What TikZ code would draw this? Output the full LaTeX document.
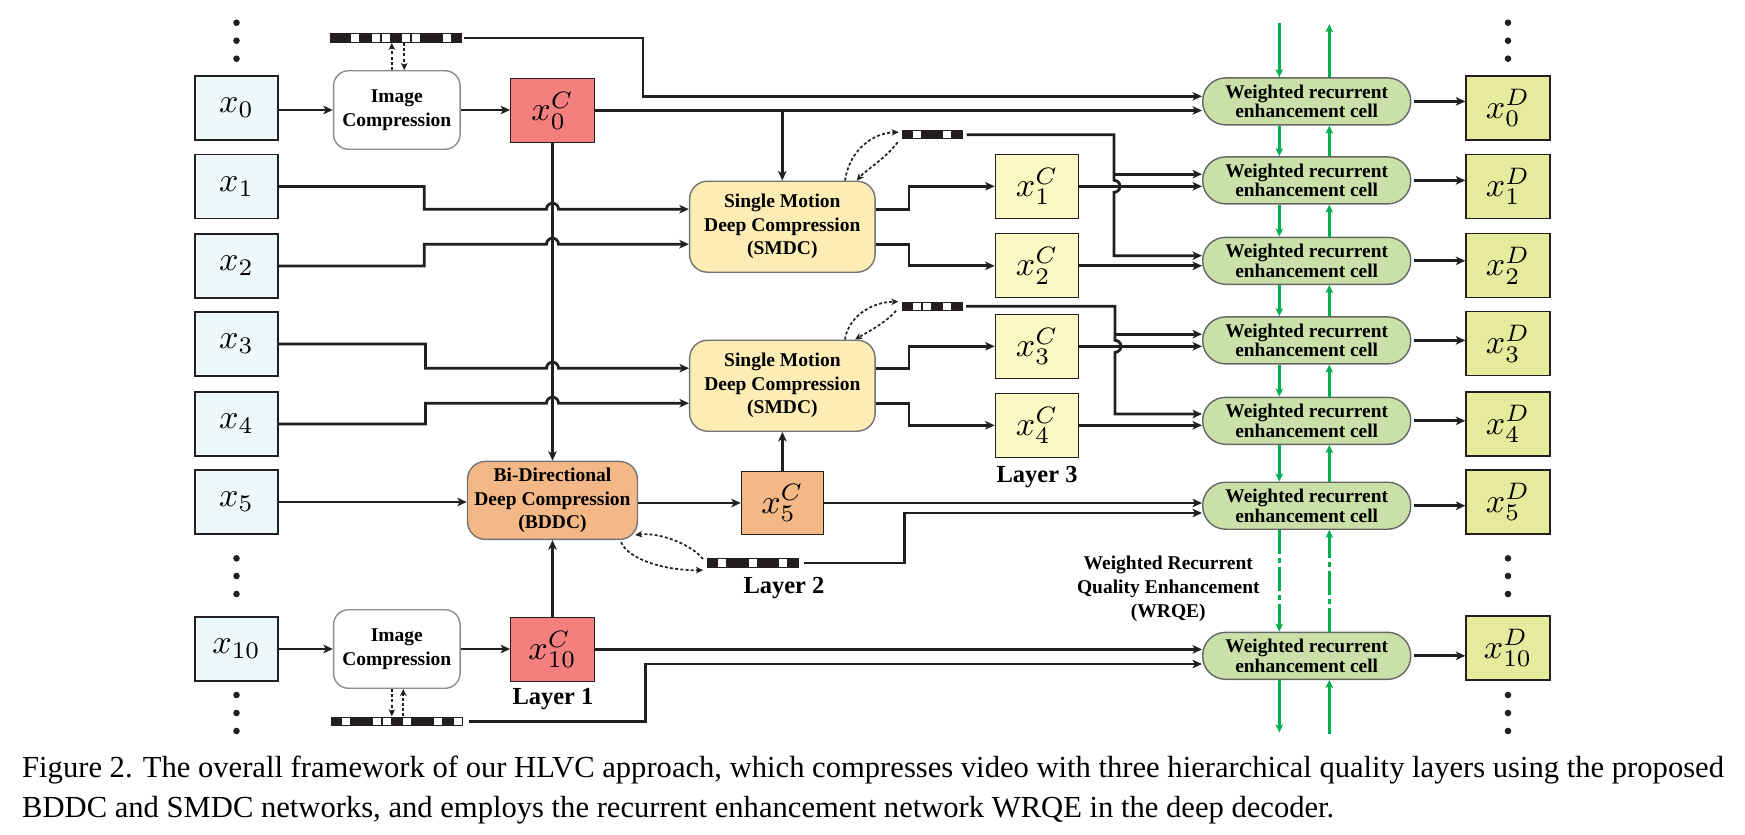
\documentclass[tikz,border=0pt]{standalone}
\usepackage{graphicx}
\usepackage[no-math]{fontspec}
\setmainfont{Liberation Serif}
\usetikzlibrary{arrows.meta,calc}

\definecolor{lin}{RGB}{35,31,32}
\definecolor{incol}{RGB}{237,248,250}
\definecolor{redcol}{RGB}{244,127,127}
\definecolor{smdccol}{RGB}{253,236,180}
\definecolor{ycol}{RGB}{252,248,196}
\definecolor{ocol}{RGB}{244,184,135}
\definecolor{wcol}{RGB}{201,225,168}
\definecolor{dcol}{RGB}{230,234,156}
\definecolor{gcol}{RGB}{0,176,80}

\newcommand{\mx}[1]{\scalebox{3.4}{$#1$}}

\tikzset{
  box/.style={draw=lin, line width=1.3pt, minimum width=83pt, minimum height=64pt, inner sep=0pt},
  inbox/.style={box, fill=incol},
  redbox/.style={box, fill=redcol, minimum width=83.5pt, minimum height=64.4pt},
  ybox/.style={box, fill=ycol, minimum width=83.4pt},
  obox/.style={box, fill=ocol, minimum width=82pt, minimum height=62.6pt},
  dbox/.style={box, fill=dcol, minimum width=84pt},
  proc/.style={align=center, inner sep=0pt, line width=1.4pt, font=\fontsize{19.5}{23.5}\selectfont\bfseries},
  icbox/.style={proc, draw=black!45, fill=white, rounded corners=15pt, minimum width=126.5pt, minimum height=78.5pt},
  smdc/.style={proc, draw=black!55, fill=smdccol, rounded corners=18pt, minimum width=185.5pt, minimum height=91pt},
  bddc/.style={proc, draw=black!55, fill=ocol, rounded corners=18pt, minimum width=170pt, minimum height=78pt},
  wrec/.style={proc, draw=black!60, fill=wcol, rounded corners=23pt, minimum width=208pt, minimum height=47pt, font=\fontsize{19.4}{19.5}\selectfont\bfseries},
  lab/.style={inner sep=0pt, font=\fontsize{24.5}{28}\selectfont\bfseries},
  arr/.style={draw=lin, line width=2.8pt, -{Stealth[length=9.5pt,width=8.5pt,inset=2.5pt]}},
  garr/.style={draw=gcol, line width=2.7pt, -{Stealth[length=8pt,width=7.5pt,inset=2pt]}},
  darr/.style={draw=lin, line width=1.7pt, dash pattern=on 3pt off 2.2pt, -{Stealth[length=7pt,width=6.5pt,inset=2pt]}},
  gdash/.style={dash pattern=on 24pt off 4pt on 5pt off 4pt},
}

\newcommand{\bitbar}[5]{%
  \node[fill=lin, inner sep=0pt, minimum width=#4*10.15pt, minimum height=9.4pt, anchor=west] (#1) at (#2,#3) {};
  \foreach \c in {#5}{\fill[white] (#2+\c*10.15+1.1, #3-3.6) rectangle (#2+\c*10.15+9.05, #3+3.6);}
}

\begin{document}
\begin{tikzpicture}[x=1pt,y=-1pt]
\useasboundingbox (0,0) rectangle (1745,835);

% ---------- input frames
\node[inbox] (x0)  at (236.5,108)   {\mx{x_0}};
\node[inbox] (x1)  at (236.5,186.5) {\mx{x_1}};
\node[inbox] (x2)  at (236.5,266)   {\mx{x_2}};
\node[inbox] (x3)  at (236.5,344)   {\mx{x_3}};
\node[inbox] (x4)  at (236.5,424)   {\mx{x_4}};
\node[inbox] (x5)  at (236.5,502)   {\mx{x_5}};
\node[inbox] (x10) at (236.5,649)   {\mx{x_{10}}};

% ---------- layer 1
\node[icbox] (IC1) at (396.8,110) {Image\\Compression};
\node[icbox] (IC2) at (396.8,649) {Image\\Compression};
\node[redbox] (x0C)  at (552.5,110.5) {\mx{x_0^C}};
\node[redbox] (x10C) at (552.5,649.4) {\mx{x_{10}^C}};

% ---------- layer 2
\node[bddc] (B) at (552.5,500.4) {Bi-Directional\\Deep Compression\\(BDDC)};
\node[obox] (x5C) at (782.4,503) {\mx{x_5^C}};

% ---------- layer 3
\node[smdc] (S1) at (782.3,226.7) {Single Motion\\Deep Compression\\(SMDC)};
\node[smdc] (S2) at (782.4,385.7) {Single Motion\\Deep Compression\\(SMDC)};
\node[ybox] (x1C) at (1037,186.3) {\mx{x_1^C}};
\node[ybox] (x2C) at (1037,265.8) {\mx{x_2^C}};
\node[ybox] (x3C) at (1037,346.3) {\mx{x_3^C}};
\node[ybox] (x4C) at (1037,425.3) {\mx{x_4^C}};

% ---------- WRQE
\node[wrec] (W0)  at (1306.7,101.4) {Weighted recurrent\\enhancement cell};
\node[wrec] (W1)  at (1306.7,180.4) {Weighted recurrent\\enhancement cell};
\node[wrec] (W2)  at (1306.7,260.8) {Weighted recurrent\\enhancement cell};
\node[wrec] (W3)  at (1306.7,340.4) {Weighted recurrent\\enhancement cell};
\node[wrec] (W4)  at (1306.7,420.8) {Weighted recurrent\\enhancement cell};
\node[wrec] (W5)  at (1306.7,505.7) {Weighted recurrent\\enhancement cell};
\node[wrec] (W10) at (1306.7,655.8) {Weighted recurrent\\enhancement cell};

% ---------- decoded frames
\node[dbox] (D0)  at (1508,108)   {\mx{x_0^D}};
\node[dbox] (D1)  at (1508,186.3) {\mx{x_1^D}};
\node[dbox] (D2)  at (1508,265.5) {\mx{x_2^D}};
\node[dbox] (D3)  at (1508,343.6) {\mx{x_3^D}};
\node[dbox] (D4)  at (1508,424)   {\mx{x_4^D}};
\node[dbox] (D5)  at (1508,502)   {\mx{x_5^D}};
\node[dbox] (D10) at (1508,648)   {\mx{x_{10}^D}};

% ---------- bitstreams
\bitbar{b0}{330}{38}{13}{2,4,5,7,8,11}
\bitbar{b1}{901.7}{134.7}{6}{1,4}
\bitbar{b2}{901.7}{306.2}{6}{1,2,4}
\bitbar{b3}{707}{563}{9}{1,4,7}
\bitbar{b4}{331.2}{721.3}{13}{1,4,5,7,10,12}

% ---------- labels
\node[lab] (L1) at (553,699) {Layer 1};
\node[lab] (L2) at (784,588) {Layer 2};
\node[lab] (L3) at (1037,476.7) {Layer 3};
\node[align=center, inner sep=0pt, font=\fontsize{19.5}{24}\selectfont\bfseries] (wrqe) at (1168.3,589) {Weighted Recurrent\\Quality Enhancement\\(WRQE)};

% ---------- dots
\foreach \yy in {22.7,40.7,58.7,558.3,576,594,695,713,731}{
  \fill[lin] (236.5,\yy) circle[radius=3.3];
  \fill[lin] (1508,\yy) circle[radius=3.3];
}

% ---------- top row connectors
\draw[arr] (x0.east |- IC1) -- (IC1.west);
\draw[arr] (IC1.east) -- (x0C.west |- IC1);
\draw[arr] (x0C.east) -- (W0.west |- x0C.east);
\draw[arr] (x0C.east -| S1.north) -- (S1.north);
\coordinate (k0) at (643,96.3);
\draw[arr, shorten <=1.5pt] (b0.east) -| (k0) -- (W0.west |- k0);
\coordinate (d0a) at ($(IC1.north)+(-5,0)$);
\coordinate (d0b) at ($(IC1.north)+(7.5,0)$);
\draw[darr] (d0a) -- (d0a |- b0.south);
\draw[darr] (d0b |- b0.south) -- (d0b);

% ---------- bottom row connectors
\draw[arr] (x10.east |- IC2) -- (IC2.west);
\draw[arr] (IC2.east) -- (x10C.west |- IC2);
\draw[arr] (x10C.east) -- (W10.west |- x10C.east);
\coordinate (k10) at (645.5,664);
\draw[arr, shorten <=5pt] (b4.east) -| (k10) -- (W10.west |- k10);
\coordinate (d4a) at ($(IC2.south)+(-5,0)$);
\coordinate (d4b) at ($(IC2.south)+(6.5,0)$);
\draw[darr] (d4a) -- (d4a |- b4.north);
\draw[darr] (d4b |- b4.north) -- (d4b);

% ---------- layer 2
\draw[arr] (x0C.south) -- (B.north);
\draw[arr] (x10C.north) -- (B.south);
\draw[arr] (x5.east) -- (B.west |- x5.east);
\draw[arr] (B.east |- x5C) -- (x5C.west);
\draw[arr] (x5C.north) -- (S2.south);
\draw[arr] (x5C.east) -- (W5.west |- x5C.east);
\coordinate (k5) at (904.5,513);
\draw[arr, shorten <=5pt] (b3.east) -| (k5) -- (W5.west |- k5);
\draw[darr] ($(B.south east)+(-17,2)$) .. controls (628,560) and (668,571) .. ($(b3.west)+(-4,7)$);
\draw[darr] ($(b3.west)+(-4,-4)$) .. controls (693,546) and (662,532) .. ($(B.east)+(-3,34.6)$);

% ---------- SMDC inputs (with hops over the vertical line)
\draw[arr] (x1.east) -| (424.3,209.2) -- (546.5,209.2) arc[start angle=180,end angle=360,radius=6] -- ($(S1.west)+(0,-17.5)$);
\draw[arr] (x2.east) -| (424.3,244.2) -- (546.5,244.2) arc[start angle=180,end angle=360,radius=6] -- ($(S1.west)+(0,17.5)$);
\draw[arr] (x3.east) -| (425.5,368.2) -- (546.5,368.2) arc[start angle=180,end angle=360,radius=6] -- ($(S2.west)+(0,-17.5)$);
\draw[arr] (x4.east) -| (425.5,403.2) -- (546.5,403.2) arc[start angle=180,end angle=360,radius=6] -- ($(S2.west)+(0,17.5)$);

% ---------- SMDC outputs
\coordinate (cs) at (909,0);
\draw[arr] ($(S1.east)+(0,-17.5)$) -| (cs |- x1C.west) -- (x1C.west);
\draw[arr] ($(S1.east)+(0,17.5)$) -| (cs |- x2C.west) -- (x2C.west);
\draw[arr] ($(S2.east)+(0,-17.5)$) -| (cs |- x3C.west) -- (x3C.west);
\draw[arr] ($(S2.east)+(0,17.5)$) -| (cs |- x4C.west) -- (x4C.west);

% ---------- SMDC bitstream exchange
\draw[darr] ($(S1.north)+(62.7,0)$) .. controls (849,152) and (871,133) .. ($(b1.west)+(-3,-2.5)$);
\draw[darr] ($(b1.west)+(-4,7.5)$) .. controls (886,158) and (866,170) .. ($(S1.north)+(74.4,0)$);
\draw[darr] ($(S2.north)+(62.6,0)$) .. controls (848,318) and (870,302) .. ($(b2.west)+(-3.4,-4.5)$);
\draw[darr] ($(b2.west)+(-5.7,4.5)$) .. controls (887,322) and (866,333) .. ($(S2.north)+(72.6,0)$);

% ---------- layer 3 to WRQE
\draw[arr] (x1C.east) -- (W1.west |- x1C.east);
\draw[arr] (x2C.east) -- (W2.west |- x2C.east);
\draw[arr] (x3C.east) -- (W3.west |- x3C.east);
\draw[arr] (x4C.east) -- (W4.west |- x4C.east);
\coordinate (k1) at (1114,174.2);
\coordinate (k2) at (1114,255.7);
\draw[arr, shorten <=3.5pt] (b1.east) -| ($(x1C.east -| k1)+(0,-6)$) arc[start angle=-90,end angle=90,radius=6] -- (k2) -- (W2.west |- k2);
\draw[arr] (k1) -- (W1.west |- k1);
\coordinate (k3) at (1115,334.2);
\coordinate (k4) at (1115,414);
\draw[arr, shorten <=3pt] (b2.east) -| ($(x3C.east -| k3)+(0,-6)$) arc[start angle=-90,end angle=90,radius=6] -- (k4) -- (W4.west |- k4);
\draw[arr] (k3) -- (W3.west |- k3);

% ---------- WRQE to decoded frames
\foreach \i in {0,1,2,3,4,5,10}{
  \draw[arr, shorten <=3pt] (W\i.east) -- (D\i.west |- W\i.east);
}

% ---------- recurrent (green) connections
\foreach \a/\b in {0/1,1/2,2/3,3/4,4/5}{
  \draw[garr] ($(W\a.south)+(-27.4,0)$) -- ($(W\b.north)+(-27.4,0)$);
  \draw[garr] ($(W\b.north)+(22.6,0)$) -- ($(W\a.south)+(22.6,0)$);
}
\draw[garr, gdash] ($(W5.south)+(-27.4,0)$) -- ($(W10.north)+(-27.4,0)$);
\draw[garr, gdash] ($(W10.north)+(22.6,0)$) -- ($(W5.south)+(22.6,0)$);
\draw[garr] ($(W0.north)+(-27.4,-54)$) -- ($(W0.north)+(-27.4,0)$);
\draw[garr] ($(W0.north)+(22.6,0)$) -- ($(W0.north)+(22.6,-53)$);
\draw[garr] ($(W10.south)+(-27.4,0)$) -- ($(W10.south)+(-27.4,52.5)$);
\draw[garr] ($(W10.south)+(22.6,53.5)$) -- ($(W10.south)+(22.6,0)$);

% ---------- caption
\node[anchor=base west, inner sep=0pt, font=\fontsize{30.6}{36}\selectfont] (cap1) at (22,777) {Figure 2. The overall framework of our HLVC approach, which compresses video with three hierarchical quality layers using the proposed};
\node[anchor=base west, inner sep=0pt, font=\fontsize{30.6}{36}\selectfont] (cap2) at (22,817) {BDDC and SMDC networks, and employs the recurrent enhancement network WRQE in the deep decoder.};
\end{tikzpicture}
\end{document}
